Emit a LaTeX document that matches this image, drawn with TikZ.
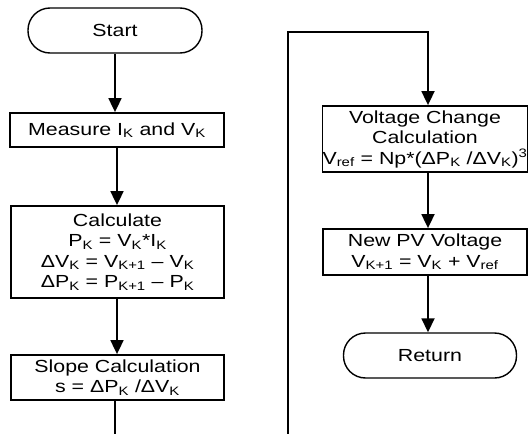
\documentclass[tikz,border=0pt]{standalone}
\usepackage{fontspec}
\setmainfont{Liberation Sans}[FakeStretch=1.22]
\usetikzlibrary{arrows.meta}
\newcommand{\sbk}[1]{\textsubscript{#1}}
\tikzset{
  box/.style={draw, line width=1.8pt, align=center, inner sep=0pt,
    font=\fontsize{17.5}{20.5}\selectfont},
  term/.style={box, rounded corners=22pt, line width=1.4pt},
  flow/.style={line width=1.8pt, -{Triangle[length=14pt,width=13pt]}},
  plain/.style={line width=1.8pt}
}
\begin{document}
\begin{tikzpicture}[x=1pt,y=-1pt]
\useasboundingbox (0,0) rectangle (528,434);
\node[term, minimum width=174pt, minimum height=45pt] (start) at (115,30.5) {Start};
\node[box, minimum width=214pt, minimum height=34pt] (measure) at (117,130) {Measure I\sbk{K} and V\sbk{K}};
\node[box, minimum width=213pt, minimum height=92pt] (calc) at (117.5,252)
  {Calculate\\P\sbk{K} = V\sbk{K}*I\sbk{K}\\ΔV\sbk{K} = V\sbk{K+1} – V\sbk{K}\\ΔP\sbk{K} = P\sbk{K+1} – P\sbk{K}};
\node[box, minimum width=213pt, minimum height=45pt] (slope) at (117.5,377.5)
  {Slope Calculation\\s = ΔP\sbk{K} /ΔV\sbk{K}};
\node[box, minimum width=204pt, minimum height=66pt] (volt) at (425,139)
  {Voltage Change\\Calculation\\V\sbk{ref} = Np*(ΔP\sbk{K} /ΔV\sbk{K})\textsuperscript{3}};
\node[box, minimum width=204pt, minimum height=46pt] (newpv) at (425,252)
  {New PV Voltage\\V\sbk{K+1} = V\sbk{K} + V\sbk{ref}};
\node[term, minimum width=173pt, minimum height=45pt] (ret) at (430,355.5) {Return};
\coordinate (c1) at (115,0);
\coordinate (c2) at (117,0);
\coordinate (c3) at (428,0);
\coordinate (sl) at (115,434);
\coordinate (lb) at (288,434);
\coordinate (lt) at (288,32);
\coordinate (rt) at (428,32);
\draw[flow] (start.south -| c1) -- (measure.north -| c1);
\draw[flow] (measure.south -| c2) -- (calc.north -| c2);
\draw[flow] (calc.south -| c2) -- (slope.north -| c2);
\draw[plain] (slope.south -| sl) -- (sl);
\draw[flow] (lb) -- (lt) -- (rt) -- (volt.north -| rt);
\draw[flow] (volt.south -| c3) -- (newpv.north -| c3);
\draw[flow] (newpv.south -| c3) -- (ret.north -| c3);
\end{tikzpicture}
\end{document}
